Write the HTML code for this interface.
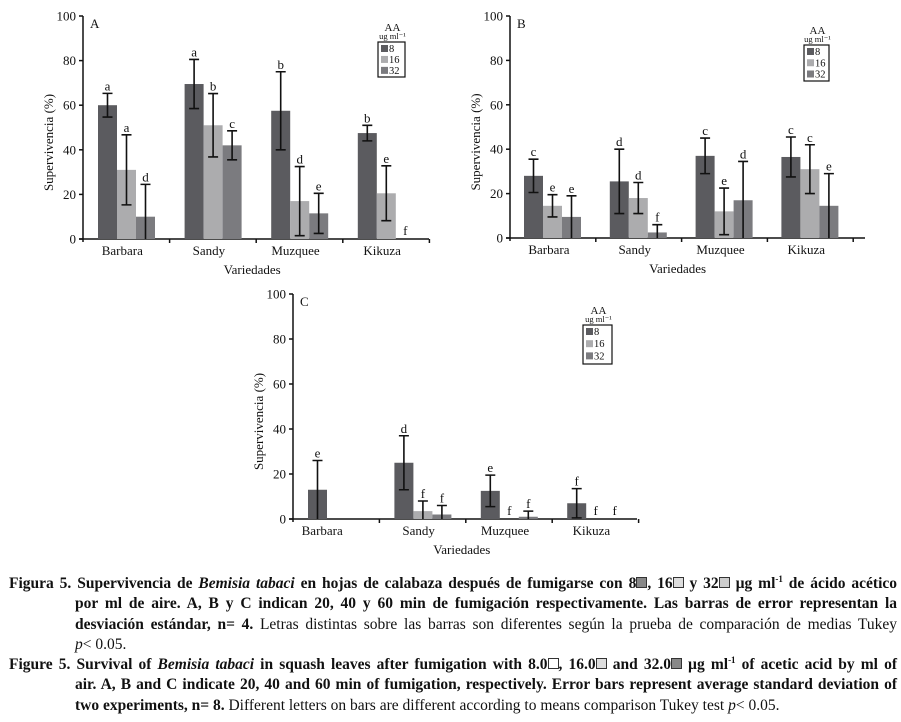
<!DOCTYPE html>
<html><head><meta charset="utf-8">
<style>
body{margin:0;background:#fff;width:901px;height:722px;overflow:hidden;position:relative;font-family:"Liberation Serif",serif}
svg{position:absolute;left:0;top:0}
svg text{font-family:"Liberation Serif",serif;fill:#111}
.cap{position:absolute;left:9px;width:888px;font-size:15.5px;line-height:20.3px;color:#111}
.cap div{white-space:nowrap;text-align:justify;text-align-last:justify;overflow:visible}
.cap .in{margin-left:66px}
.cap .nl{text-align-last:left}
.b{font-weight:bold}
.sq{display:inline-block;width:9px;height:9px;border:1px solid #333;vertical-align:0px}
sup{font-size:9px;line-height:0}
</style></head><body>
<svg id="chart" width="901" height="570"></svg>
<div class="cap" style="top:574px">
<div class="b">Figura 5. Supervivencia de <i>Bemisia tabaci</i> en hojas de calabaza después de fumigarse con 8<span class="sq" style="background:#888"></span>, 16<span class="sq" style="background:#ddd"></span> y 32<span class="sq" style="background:#ccc"></span> µg ml<sup>-1</sup> de ácido acético</div>
<div class="in b">por ml de aire. A, B y C indican 20, 40 y 60 min de fumigación respectivamente. Las barras de error representan la</div>
<div class="in"><span class="b">desviación estándar, n= 4.</span> Letras distintas sobre las barras son diferentes según la prueba de comparación de medias Tukey</div>
<div class="in nl"><i>p</i>&lt; 0.05.</div>
<div class="b">Figure 5. Survival of <i>Bemisia tabaci</i> in squash leaves after fumigation with 8.0<span class="sq"></span>, 16.0<span class="sq" style="background:#ddd"></span> and 32.0<span class="sq" style="background:#888"></span> µg ml<sup>-1</sup> of acetic acid by ml of</div>
<div class="in b">air. A, B and C indicate 20, 40 and 60 min of fumigation, respectively. Error bars represent average standard deviation of</div>
<div class="in nl"><span class="b">two experiments, n= 8.</span> Different letters on bars are different according to means comparison Tukey test <i>p</i>&lt; 0.05.</div>
</div>
<script>
const categories=["Barbara","Sandy","Muzquee","Kikuza"];
const seriesNames=["8","16","32"];
const yTicks=[0,20,40,60,80,100];
const A8=[60,69.5,57.5,47.5],A16=[31,51,17,20.5],A32=[10,42,11.5,0];
const A8e=[5.3,11,17.5,3.5],A16e=[15.7,14.2,15.5,12.3],A32e=[14.5,6.5,9,0];
const A8l=["a","a","b","b"],A16l=["a","b","d","e"],A32l=["d","c","e","f"];
const B8=[28,25.5,37,36.5],B16=[14.5,18,12,31],B32=[9.5,2.5,17,14.5];
const B8e=[7.5,14.5,8,9],B16e=[5,7,10.5,11],B32e=[9.5,3.5,17.5,14.5];
const B8l=["c","d","c","c"],B16l=["e","d","e","c"],B32l=["e","f","d","e"];
const C8=[13,25,12.5,7],C16=[0,3.5,0,0],C32=[0,2,1,0];
const C8e=[13,12,7,6.5],C16e=[0,4.5,0,0],C32e=[0,4,2.5,0];
const C8l=["e","d","e","f"],C16l=["","f","f","f"],C32l=["","f","f","f"];

const NS="http://www.w3.org/2000/svg";
const svg=document.getElementById("chart");
const colors=["#5b5b5f","#acacae","#7b7b7f"];
function mk(tag,at,parent){const e=document.createElementNS(NS,tag);for(const k in at)e.setAttribute(k,at[k]);(parent||svg).appendChild(e);return e;}
function panel(cfg){
 const g=mk("g",{});
 
 
 const y=v=>cfg.y0-(cfg.y0-cfg.y100)*v/100;
 const gw=cfg.gw;
 const ax=mk("line",{x1:cfg.x0,y1:cfg.y100,x2:cfg.x0,y2:cfg.y0+3,stroke:"#111","stroke-width":1.5},g);
 
 const xx=mk("line",{x1:cfg.x0-4,y1:cfg.y0,x2:cfg.xEnd,y2:cfg.y0,stroke:"#111","stroke-width":1.5},g);
 
 yTicks.forEach(t=>{
  mk("line",{x1:cfg.x0-4,y1:y(t),x2:cfg.x0,y2:y(t),stroke:"#111","stroke-width":1.5},g);
  const tx=mk("text",{x:cfg.x0-7,y:y(t)+4.5,"text-anchor":"end","font-size":13},g);
  tx.textContent=t;
  
 });
 for(let i=1;i<=categories.length;i++){mk("line",{x1:cfg.x0+i*gw,y1:cfg.y0,x2:cfg.x0+i*gw,y2:cfg.y0+4,stroke:"#111","stroke-width":1.5},g);}
 categories.forEach((c,i)=>{
  const t=mk("text",{x:cfg.x0+gw*i+gw/2-4+(i===0?cfg.firstShift:0),y:cfg.y0+16,"text-anchor":"middle","font-size":13},g);
  t.textContent=c;
  
 });
 const xt=mk("text",{x:cfg.x0+2*gw-4,y:cfg.y0+35,"text-anchor":"middle","font-size":13},g);
 xt.textContent="Variedades";
 
 const yt=mk("text",{x:0,y:0,"text-anchor":"middle","font-size":13,transform:`translate(${cfg.x0-30},${(cfg.y0+cfg.y100)/2+15}) rotate(-90)`},g);
 yt.textContent="Supervivencia (%)";
 
 const pl=mk("text",{x:cfg.x0+7,y:cfg.y100+12,"font-size":13},g);
 pl.textContent=cfg.label;
 
 cfg.vals.forEach((vals,s)=>{
  vals.forEach((v,i)=>{
   const bx=cfg.x0+gw*i+cfg.off+s*cfg.bw;
   const cx=bx+cfg.bw/2;
   if(v>0){
    const r=mk("rect",{x:bx,y:y(v),width:cfg.bw,height:y(0)-y(v),fill:colors[s]},g);
    
    
   }
   const e=cfg.errs[s][i];
   let top=y(v);
   if(e>0){
    const hi=v+e,lo=Math.max(0,v-e);
    const el=mk("path",{d:`M${cx},${y(lo)}V${y(hi)}M${cx-5},${y(hi)}H${cx+5}`+(lo>0?`M${cx-5},${y(lo)}H${cx+5}`:""),stroke:"#111","stroke-width":1.6,fill:"none"},g);
    
    top=y(hi);
   }
   const L=cfg.lets[s][i];
   if(L){
    const lt=mk("text",{x:cx,y:(v===0&&e===0)?y(0)-4:top-3,"text-anchor":"middle","font-size":13},g);
    lt.textContent=L;
    
   }
  });
 });
 const lg=cfg.leg;
 const lgG=mk("g",{},g);
 
 let t1=mk("text",{x:lg.x+lg.w/2+1,y:lg.y-10,"text-anchor":"middle","font-size":11},lgG);t1.textContent="AA";
 let t2=mk("text",{x:lg.x+lg.w/2+1,y:lg.y-2,"text-anchor":"middle","font-size":8.5},lgG);t2.textContent="ug ml⁻¹";
 mk("rect",{x:lg.x,y:lg.y+1,width:lg.w,height:lg.h,fill:"none",stroke:"#111","stroke-width":1.2},lgG);
 seriesNames.forEach((n,s)=>{
  const ly=lg.y+4+s*lg.h/3.2;
  const sw=mk("rect",{x:lg.x+3,y:ly,width:7,height:7,fill:colors[s]},lgG);
  
  const lt=mk("text",{x:lg.x+11,y:ly+7,"font-size":10.5},lgG);lt.textContent=n;
  
 });
}
panel({label:"A",x0:83,xEnd:429,y100:16,y0:239,gw:86.6,off:15,bw:19,firstShift:0,
 vals:[A8,A16,A32],errs:[A8e,A16e,A32e],lets:[A8l,A16l,A32l],leg:{x:378,y:41,w:27,h:35}});
panel({label:"B",x0:510,xEnd:865,y100:16,y0:238,gw:85.8,off:14,bw:19,firstShift:0,
 vals:[B8,B16,B32],errs:[B8e,B16e,B32e],lets:[B8l,B16l,B32l],leg:{x:804,y:44,w:25,h:36}});
panel({label:"C",x0:293,xEnd:637,y100:294,y0:519,gw:86.4,off:15,bw:19,firstShift:-10,
 vals:[C8,C16,C32],errs:[C8e,C16e,C32e],lets:[C8l,C16l,C32l],leg:{x:583,y:324,w:29,h:39}});
</script>
</body></html>
